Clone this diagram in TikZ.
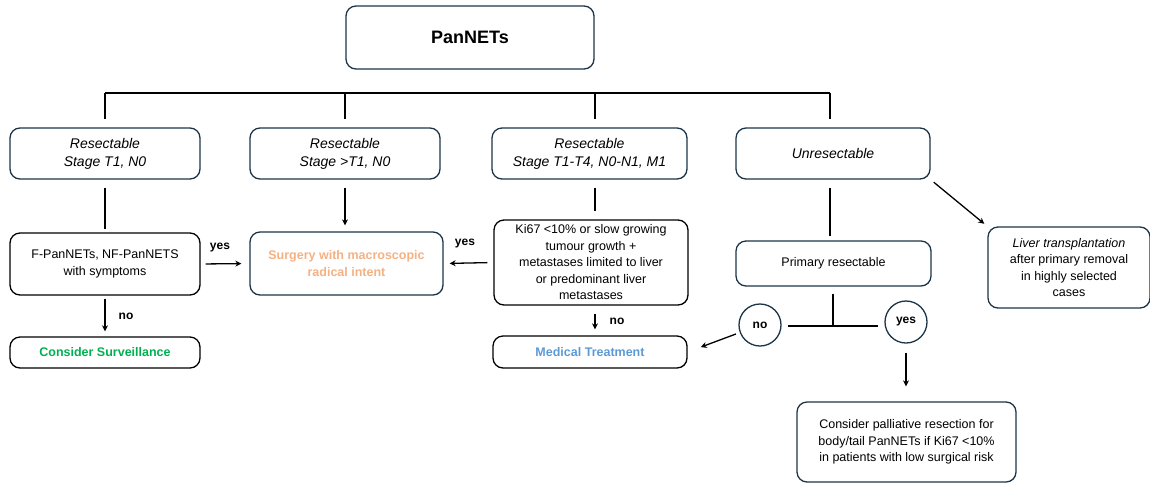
\documentclass[tikz,border=0pt]{standalone}
\usepackage{fontspec}
\setmainfont{Liberation Sans}
\usetikzlibrary{arrows.meta}

\definecolor{navy}{HTML}{1B3447}
\definecolor{surgorange}{HTML}{F4B183}
\definecolor{survgreen}{HTML}{00B050}
\definecolor{medblue}{HTML}{5B9BD5}

\tikzset{
  pbox/.style={draw=navy, line width=1.3pt, rounded corners=10pt, align=center,
    inner sep=2pt, font=\fontsize{12.5}{16.5}\selectfont},
  kbox/.style={pbox, draw=black},
  ibox/.style={pbox, font=\fontsize{14}{18}\selectfont\itshape},
  lbl/.style={font=\fontsize{12}{14}\selectfont\bfseries, inner sep=1pt},
  circ/.style={circle, draw=navy, line width=1.3pt, minimum size=42pt, inner sep=0pt,
    font=\fontsize{12}{14}\selectfont\bfseries},
  conn/.style={line width=1.3pt},
  arr/.style={conn, -{Stealth[length=6pt,width=6pt]}}
}

\begin{document}
\begin{tikzpicture}[x=1pt,y=-1pt]
\useasboundingbox (0,0) rectangle (1150,483);

% top
\node[pbox, minimum width=248pt, minimum height=63pt, font=\fontsize{18}{20}\selectfont\bfseries] (pan) at (470,37.5) {PanNETs};

% the bar
\coordinate (b1) at (105,93);
\coordinate (b2) at (345,93);
\coordinate (b3) at (595,93);
\coordinate (b4) at (830,93);
\draw[conn] (b1) -- (b4);

% second row
\node[ibox, minimum width=190pt, minimum height=51pt] (res1) at (105,153.5) {Resectable\\Stage T1, N0};
\node[ibox, minimum width=190pt, minimum height=51pt] (res2) at (345,153.5) {Resectable\\Stage >T1, N0};
\node[ibox, minimum width=195pt, minimum height=51pt] (res3) at (589.5,153.5) {Resectable\\Stage T1-T4, N0-N1, M1};
\node[ibox, minimum width=194pt, minimum height=51pt] (unres) at (833,153.5) {Unresectable};

\draw[conn, shorten >=8pt] (b1) -- (b1 |- res1.north);
\draw[conn, shorten >=8pt] (b2) -- (b2 |- res2.north);
\draw[conn, shorten >=8pt] (b3) -- (b3 |- res3.north);
\draw[conn, shorten >=8pt] (b4) -- (b4 |- unres.north);

% third row
\node[kbox, minimum width=190pt, minimum height=62pt] (fpan) at (105,264) {F-PanNETs, NF-PanNETS\\with symptoms};
\node[pbox, minimum width=193pt, minimum height=63pt, text=surgorange, font=\fontsize{12.5}{16.5}\selectfont\bfseries] (surg) at (346.5,263.5) {Surgery with macroscopic\\radical intent};
\node[kbox, minimum width=194pt, minimum height=85pt] (ki67) at (591,262.5) {Ki67 <10\% or slow growing\\tumour growth +\\metastases limited to liver\\or predominant liver\\metastases};
\node[pbox, minimum width=195pt, minimum height=45pt] (prim) at (833.5,263.5) {Primary resectable};
\node[pbox, minimum width=162pt, minimum height=81pt] (liver) at (1069,267.5) {\textit{Liver transplantation}\\after primary removal\\in highly selected\\cases};

\draw[conn, shorten <=8pt, shorten >=3pt] (res1.south -| b1) -- (fpan.north -| b1);
\draw[arr, shorten <=8pt, shorten >=6pt] (res2.south -| b2) -- (surg.north -| b2);
\draw[conn, shorten <=8pt, shorten >=8pt] (res3.south -| b3) -- (ki67.north -| b3);
\draw[conn, shorten <=8pt, shorten >=4pt] (unres.south -| b4) -- (prim.north -| b4);
\draw[arr, shorten <=4pt, shorten >=4pt] (unres.south east) -- (liver.north west);

\node[lbl] (yes1) at (220,248) {yes};
\draw[arr, shorten <=5pt, shorten >=8pt] (fpan.east) -- (surg.west);
\node[lbl] (yes2) at (465,244) {yes};
\draw[arr, shorten <=6pt, shorten >=6pt] (ki67.west) -- (surg.east);

% bottom
\node[kbox, minimum width=190pt, minimum height=31pt, text=survgreen, font=\fontsize{12.5}{15}\selectfont\bfseries] (surv) at (105,352.5) {Consider Surveillance};
\node[kbox, minimum width=194pt, minimum height=32pt, text=medblue, font=\fontsize{12.5}{15}\selectfont\bfseries] (med) at (590,352) {Medical Treatment};

\draw[arr, shorten <=3pt, shorten >=5pt] (fpan.south) -- (surv.north);
\node[lbl] (no1) at (126,316) {no};
\draw[arr, shorten <=8pt, shorten >=6pt] (ki67.south -| b3) -- (med.north -| b3);
\node[lbl] (no2) at (617,321) {no};

\node[circ] (cno) at (760,325) {no};
\node[circ] (cyes) at (906,322) {yes};
\coordinate (split) at (833,326);
\draw[conn, shorten <=7pt] (prim.south -| split) -- (split);
\draw[conn, shorten <=6pt, shorten >=6pt] (cno.east |- split) -- (cyes.west |- split);
\draw[arr, shorten <=4pt, shorten >=14pt] (cno) -- (med.east);

\node[pbox, minimum width=219pt, minimum height=80pt] (pall) at (906.5,442) {Consider palliative resection for\\body/tail PanNETs if Ki67 <10\%\\in patients with low surgical risk};
\draw[arr, shorten <=9pt, shorten >=15pt] (cyes.south) -- (pall.north -| cyes);
\end{tikzpicture}
\end{document}
